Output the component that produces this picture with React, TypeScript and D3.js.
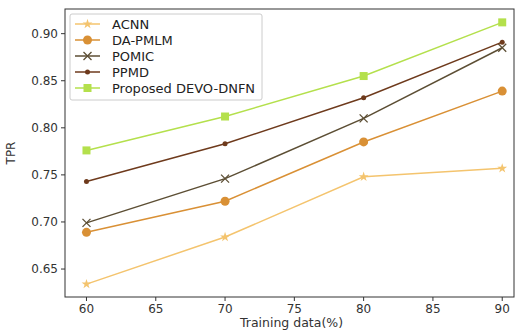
import React from "react";
import * as d3 from "d3";

const xValues = [60, 70, 80, 90];
const seriesNames = ["ACNN", "DA-PMLM", "POMIC", "PPMD", "Proposed DEVO-DNFN"];
const acnn = [0.634, 0.684, 0.748, 0.757];
const daPmlm = [0.689, 0.722, 0.785, 0.839];
const pomic = [0.699, 0.746, 0.810, 0.885];
const ppmd = [0.743, 0.783, 0.832, 0.891];
const proposed = [0.776, 0.812, 0.855, 0.912];
const xTicks = [60, 65, 70, 75, 80, 85, 90];
const yTicks = [0.65, 0.7, 0.75, 0.8, 0.85, 0.9];

const colors = ["#f4c46e", "#d99035", "#5c4e34", "#6e3a1c", "#b4e04c"];
const markers = ["star", "circle", "x", "dot", "square"];
const allSeries = [acnn, daPmlm, pomic, ppmd, proposed];

const W = 520, H = 333;
const L = 65, R = 514, T = 9, B = 297;
const FONT = "DejaVu Sans, sans-serif";

function Marker({ type, x, y, color }: { type: string; x: number; y: number; color: string }) {
  if (type === "circle") return <circle cx={x} cy={y} r={4.5} fill={color} />;
  if (type === "dot") return <circle cx={x} cy={y} r={2.5} fill={color} />;
  if (type === "square") return <rect x={x - 4} y={y - 4} width={8} height={8} fill={color} />;
  if (type === "x")
    return (
      <path d={`M${x - 4},${y - 4}L${x + 4},${y + 4}M${x - 4},${y + 4}L${x + 4},${y - 4}`} stroke={color} strokeWidth={1.3} />
    );
  const star = d3.symbol(d3.symbolStar, 30)();
  return <path d={star || ""} transform={`translate(${x},${y})`} fill={color} />;
}

export default function App() {
  const x = d3.scaleLinear().domain([58.45, 90.85]).range([L, R]);
  const y = d3.scaleLinear().domain([0.6203, 0.9262]).range([B, T]);
  const line = d3
    .line<number>()
    .x((_, i) => x(xValues[i]))
    .y((d) => y(d));

  return (
    <svg width={W} height={H} style={{ position: "absolute", left: 0, top: 0, background: "#fff" }} fontFamily={FONT}>
      <rect x={L} y={T} width={R - L} height={B - T} fill="none" stroke="#333" strokeWidth={1} />
      {xTicks.map((t) => (
        <g key={t}>
          <line x1={x(t)} x2={x(t)} y1={B} y2={B + 4} stroke="#333" />
          <text x={x(t)} y={B + 16} textAnchor="middle" fontSize={12} fill="#333">
            {t}
          </text>
        </g>
      ))}
      {yTicks.map((t) => (
        <g key={t}>
          <line x1={L - 4} x2={L} y1={y(t)} y2={y(t)} stroke="#333" />
          <text x={L - 7} y={y(t) + 4} textAnchor="end" fontSize={12} fill="#333">
            {t.toFixed(2)}
          </text>
        </g>
      ))}
      <text x={(L + R) / 2 + 2} y={B + 30} textAnchor="middle" fontSize={12.5} fill="#333">
        Training data(%)
      </text>
      <text transform={`translate(15,${(T + B) / 2}) rotate(-90)`} textAnchor="middle" fontSize={12} fill="#333">
        TPR
      </text>
      {allSeries.map((s, si) => (
        <g key={si}>
          <path d={line(s) || ""} fill="none" stroke={colors[si]} strokeWidth={1.5} />
          {s.map((v, i) => (
            <Marker key={i} type={markers[si]} x={x(xValues[i])} y={y(v)} color={colors[si]} />
          ))}
        </g>
      ))}
      <g>
        <rect x={70} y={14} width={192} height={86} fill="#fff" fillOpacity={0.8} stroke="#ccc" rx={2} />
        {seriesNames.map((n, i) => {
          const ly = 24 + i * 16;
          return (
            <g key={n}>
              <line x1={75} x2={100} y1={ly} y2={ly} stroke={colors[i]} strokeWidth={1.5} />
              <Marker type={markers[i]} x={87.5} y={ly} color={colors[i]} />
              <text x={112} y={ly + 4.5} fontSize={13} fill="#222">
                {n}
              </text>
            </g>
          );
        })}
      </g>
    </svg>
  );
}
